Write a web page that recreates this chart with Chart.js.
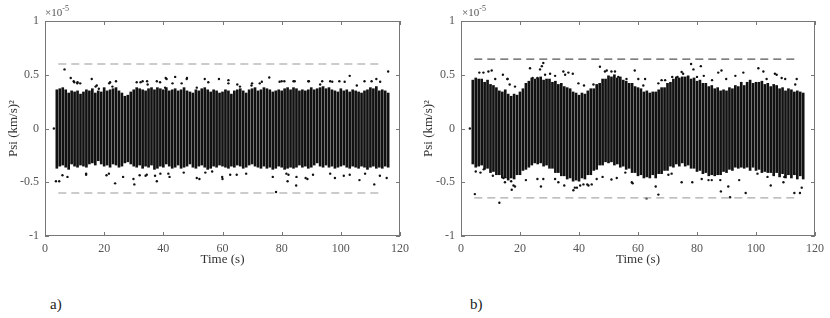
<!DOCTYPE html>
<html>
<head>
<meta charset="utf-8">
<script src="https://cdn.jsdelivr.net/npm/chart.js@4"></script>
<style>
body { margin: 0; background: #fff; width: 830px; height: 318px; position: relative; overflow: hidden; font-family: "Liberation Serif", serif; }
canvas { position: absolute; top: 0; }
#chartA { left: 0; }
#chartB { left: 415px; }
.exp { position: absolute; top: 4px; font-size: 11px; color: #555; }
.exp sup { font-size: 8px; }
.tag { position: absolute; top: 296px; font-size: 15px; color: #222; }
</style>
</head>
<body>
<canvas id="chartA" width="415" height="270"></canvas>
<canvas id="chartB" width="415" height="270"></canvas>
<div class="exp" style="left:45px">×10<sup>-5</sup></div>
<div class="exp" style="left:462px">×10<sup>-5</sup></div>
<div class="tag" style="left:50px">a)</div>
<div class="tag" style="left:470px">b)</div>
<script>
// time samples (s), one column of points per second
const times = [4,5,6,7,8,9,10,11,12,13,14,15,16,17,18,19,20,21,22,23,24,25,26,27,28,29,30,31,32,33,
    34,35,36,37,38,39,40,41,42,43,44,45,46,47,48,49,50,51,52,53,54,55,56,57,58,59,60,61,62,63,
    64,65,66,67,68,69,70,71,72,73,74,75,76,77,78,79,80,81,82,83,84,85,86,87,88,89,90,91,92,93,
    94,95,96,97,98,99,100,101,102,103,104,105,106,107,108,109,110,111,112,113,114,115,116];

// panel a) dense envelope of each column (x 1e-5)
const aHi = [0.36,0.37,0.38,0.36,0.33,0.35,0.34,0.35,0.32,0.34,
    0.36,0.35,0.37,0.33,0.35,0.34,0.38,0.35,0.36,0.37,
    0.38,0.35,0.33,0.30,0.31,0.34,0.36,0.38,0.37,0.36,
    0.35,0.37,0.38,0.36,0.38,0.37,0.36,0.38,0.35,0.36,
    0.37,0.35,0.36,0.38,0.35,0.34,0.33,0.36,0.35,0.37,
    0.38,0.36,0.34,0.36,0.35,0.33,0.34,0.36,0.35,0.32,
    0.35,0.36,0.37,0.35,0.33,0.36,0.37,0.38,0.35,0.36,
    0.38,0.37,0.36,0.34,0.35,0.36,0.35,0.37,0.38,0.36,
    0.38,0.37,0.35,0.36,0.35,0.36,0.38,0.36,0.37,0.38,
    0.39,0.37,0.38,0.36,0.35,0.34,0.37,0.35,0.36,0.34,
    0.36,0.35,0.34,0.33,0.35,0.36,0.38,0.37,0.39,0.35,
    0.36,0.35,0.33];
const aLo = [-0.37,-0.35,-0.34,-0.36,-0.38,-0.33,-0.35,-0.36,-0.34,-0.35,
    -0.36,-0.33,-0.32,-0.34,-0.30,-0.33,-0.35,-0.34,-0.36,-0.33,
    -0.34,-0.36,-0.35,-0.32,-0.31,-0.33,-0.35,-0.36,-0.34,-0.37,
    -0.35,-0.36,-0.34,-0.38,-0.37,-0.35,-0.36,-0.33,-0.35,-0.37,
    -0.36,-0.34,-0.37,-0.36,-0.35,-0.33,-0.36,-0.37,-0.35,-0.34,
    -0.36,-0.38,-0.37,-0.35,-0.36,-0.34,-0.35,-0.36,-0.37,-0.35,
    -0.36,-0.34,-0.35,-0.37,-0.36,-0.34,-0.33,-0.35,-0.36,-0.37,
    -0.35,-0.37,-0.36,-0.38,-0.37,-0.35,-0.36,-0.38,-0.37,-0.36,
    -0.37,-0.36,-0.34,-0.36,-0.35,-0.37,-0.36,-0.34,-0.32,-0.35,
    -0.36,-0.34,-0.36,-0.35,-0.37,-0.36,-0.35,-0.34,-0.36,-0.37,
    -0.35,-0.36,-0.37,-0.35,-0.36,-0.38,-0.36,-0.35,-0.37,-0.36,
    -0.37,-0.35,-0.36];
// isolated points outside the dense band
const aOutT = [3,6.6,8.7,9.7,11,15.8,17.5,22,24,31,33,34.5,37.8,40.8,44,48,54,58.8,62,65,70,72.6,75.8,80,84,89,93,96.4,99.5,103,108,112,116,
    3.7,4.8,7.6,13.9,23.7,26.4,29.9,30.2,34.4,37.8,41.7,51.3,52.2,60,62.6,77,78.1,82,82.3,84.9,88.7,98,103,106.3,111.3,115.5];
const aOutV = [0,0.55,0.47,0.44,0.43,0.46,0.40,0.43,0.44,0.43,0.44,0.44,0.44,0.47,0.48,0.47,0.46,0.46,0.45,0.41,0.42,0.42,0.475,0.44,0.44,0.44,0.41,0.44,0.44,0.49,0.44,0.46,0.53,
    -0.49,-0.49,-0.45,-0.43,-0.51,-0.45,-0.47,-0.52,-0.43,-0.49,-0.42,-0.46,-0.47,-0.47,-0.43,-0.45,-0.59,-0.49,-0.43,-0.53,-0.47,-0.46,-0.43,-0.48,-0.52,-0.46];
// scattered points just outside the band edge
const aEdgeT = [9.9,10.9,11.9,17.1,18.2,21.7,22.8,32.3,34.7,38.9,41.1,43.1,46.2,47.9,51.3,40.6,55.2,62,65.9,69.8,73.3,79.3,80.9,84.4,89.2,93.7,97.1,101.3,105.4,110.4,113.3,
    5.9,13.9,20.8,21.6,32,34,37.2,39,42.1,46.9,54.2,56.5,59.9,64.8,68,81.6,85,88.1,90.6,96.4,101,108.2,113.2];
const aEdgeV = [0.43,0.42,0.42,0.39,0.37,0.42,0.39,0.43,0.41,0.43,0.46,0.42,0.42,0.46,0.38,0.38,0.43,0.42,0.39,0.40,0.435,0.435,0.44,0.44,0.44,0.44,0.435,0.435,0.40,0.44,0.435,
    -0.435,-0.42,-0.435,-0.42,-0.435,-0.44,-0.44,-0.42,-0.45,-0.41,-0.41,-0.40,-0.45,-0.43,-0.42,-0.42,-0.45,-0.46,-0.43,-0.42,-0.44,-0.42,-0.44];
const aLimit = [0.6, -0.6];

// panel b)
const bHi = [0.45,0.47,0.46,0.46,0.43,0.45,0.41,0.40,0.38,0.35,
    0.34,0.36,0.32,0.30,0.32,0.31,0.34,0.37,0.42,0.44,
    0.47,0.46,0.47,0.48,0.45,0.46,0.46,0.43,0.44,0.41,
    0.42,0.39,0.38,0.37,0.34,0.33,0.31,0.33,0.32,0.35,
    0.37,0.37,0.41,0.42,0.46,0.46,0.49,0.48,0.50,0.47,
    0.48,0.45,0.44,0.42,0.42,0.39,0.38,0.37,0.34,0.35,
    0.33,0.34,0.34,0.36,0.38,0.38,0.42,0.43,0.46,0.48,
    0.47,0.48,0.48,0.49,0.46,0.47,0.44,0.45,0.42,0.42,
    0.39,0.40,0.37,0.38,0.35,0.36,0.35,0.38,0.37,0.40,
    0.39,0.43,0.40,0.43,0.45,0.42,0.43,0.43,0.44,0.41,
    0.42,0.39,0.41,0.40,0.37,0.38,0.35,0.37,0.36,0.34,
    0.35,0.34,0.33];
const bLo = [-0.33,-0.36,-0.35,-0.34,-0.38,-0.37,-0.41,-0.40,-0.43,-0.43,
    -0.46,-0.46,-0.48,-0.46,-0.47,-0.43,-0.43,-0.39,-0.38,-0.36,
    -0.34,-0.32,-0.33,-0.32,-0.35,-0.34,-0.37,-0.37,-0.41,-0.41,
    -0.44,-0.44,-0.47,-0.46,-0.49,-0.48,-0.49,-0.46,-0.47,-0.43,
    -0.43,-0.39,-0.38,-0.34,-0.34,-0.31,-0.32,-0.31,-0.34,-0.33,
    -0.36,-0.35,-0.38,-0.37,-0.41,-0.41,-0.44,-0.43,-0.46,-0.45,
    -0.46,-0.43,-0.46,-0.42,-0.42,-0.39,-0.39,-0.35,-0.36,-0.33,
    -0.35,-0.32,-0.35,-0.34,-0.37,-0.37,-0.40,-0.39,-0.42,-0.41,
    -0.44,-0.43,-0.44,-0.43,-0.43,-0.40,-0.41,-0.38,-0.39,-0.36,
    -0.37,-0.36,-0.37,-0.36,-0.39,-0.36,-0.39,-0.38,-0.41,-0.40,
    -0.41,-0.41,-0.44,-0.41,-0.45,-0.42,-0.46,-0.43,-0.46,-0.43,
    -0.47,-0.44,-0.47];
const bOutT = [3,9.3,10.4,7.6,15.8,18.3,23.4,26.8,27.9,27.4,30.2,34.7,36.4,47.1,49.4,51,52.2,58.9,62.4,68,74.8,78,81.3,78.8,88.3,95.7,100.8,102.5,106.4,108.7,113.8,
    4.7,13,14.9,17.2,18.3,27.1,33,38.1,38.6,43.2,51,58.2,62.9,66.9,66,74.8,78.4,88.1,91.2,90.6,96.5,105,109.3,113,114.9,115.5];
const bOutV = [0,0.53,0.54,0.52,0.46,0.39,0.56,0.55,0.61,0.58,0.51,0.53,0.52,0.575,0.54,0.53,0.53,0.54,0.46,0.45,0.525,0.60,0.58,0.55,0.54,0.52,0.56,0.53,0.51,0.47,0.46,
    -0.61,-0.69,-0.50,-0.57,-0.54,-0.54,-0.50,-0.575,-0.55,-0.53,-0.475,-0.51,-0.65,-0.615,-0.54,-0.50,-0.50,-0.585,-0.64,-0.54,-0.60,-0.53,-0.50,-0.60,-0.60,-0.55];
const bEdgeT = [6.2,11.6,14.2,15.7,16.5,24.3,25.9,28.5,31.9,35.3,37.9,39.8,41.7,44.9,48.8,53.3,56.1,60.1,61.8,66.9,69.2,71.6,73.4,75.3,80,82.3,85.1,87.2,89.9,93,103.6,107,109.9,113.3,
    5,6.6,7.7,10.8,14.4,15.9,17,17.8,22,25.9,27.9,31.9,35,39.3,40.4,41.5,42.8,44.3,46,48,52.8,57.9,55.7,70.3,71.4,81.6,83.9,85,87.9,94.3,100.5,103.9,109.6,113];
const bEdgeV = [0.52,0.46,0.50,0.46,0.41,0.47,0.47,0.50,0.49,0.50,0.51,0.42,0.40,0.41,0.53,0.48,0.46,0.46,0.40,0.42,0.45,0.48,0.48,0.51,0.48,0.49,0.45,0.52,0.46,0.49,0.46,0.50,0.46,0.41,
    -0.40,-0.41,-0.38,-0.44,-0.46,-0.455,-0.49,-0.53,-0.48,-0.47,-0.47,-0.47,-0.53,-0.55,-0.53,-0.52,-0.52,-0.52,-0.47,-0.45,-0.46,-0.50,-0.41,-0.43,-0.42,-0.47,-0.48,-0.48,-0.48,-0.48,-0.42,-0.45,-0.45,-0.42];
const bLimit = [0.645, -0.645];

const limitSpan = [4.5, 113];
const xTicks = [0, 20, 40, 60, 80, 100, 120];
const yTicks = [-1, -0.5, 0, 0.5, 1];

// frame + inward ticks like matlab axes
const frame = {
    id: 'frame',
    afterDraw(chart) {
        const { ctx, chartArea: a, scales: { x, y } } = chart;
        ctx.save();
        ctx.strokeStyle = '#777';
        ctx.lineWidth = 1;
        ctx.strokeRect(a.left + 0.5, a.top + 0.5, a.width - 1, a.height - 1);
        ctx.beginPath();
        x.ticks.forEach(t => {
            const px = Math.round(x.getPixelForValue(t.value)) + 0.5;
            ctx.moveTo(px, a.bottom); ctx.lineTo(px, a.bottom - 4);
            ctx.moveTo(px, a.top); ctx.lineTo(px, a.top + 4);
        });
        y.ticks.forEach(t => {
            const py = Math.round(y.getPixelForValue(t.value)) + 0.5;
            ctx.moveTo(a.left, py); ctx.lineTo(a.left + 4, py);
            ctx.moveTo(a.right, py); ctx.lineTo(a.right - 4, py);
        });
        ctx.stroke();
        ctx.restore();
    }
};

function makeChart(id, hi, lo, outT, outV, edgeT, edgeV, limit, yAxisWidth, upColor, lowColor) {
    const cols = times.map((t, i) => ({ x: t, y: [lo[i], hi[i]] }));
    const outs = outT.map((t, i) => ({ x: t, y: outV[i] }));
    const edges = edgeT.map((t, i) => ({ x: t, y: edgeV[i] }));
    const font = { family: 'Liberation Serif', size: 12 };
    return new Chart(document.getElementById(id), {
        type: 'bar',
        data: {
            datasets: [
                {
                    type: 'line',
                    data: limitSpan.map(t => ({ x: t, y: limit[0] })),
                    borderColor: upColor,
                    borderWidth: 1.2,
                    borderDash: [8, 5],
                    pointRadius: 0,
                    order: 1
                },
                {
                    type: 'line',
                    data: limitSpan.map(t => ({ x: t, y: limit[1] })),
                    borderColor: lowColor,
                    borderWidth: 1.2,
                    borderDash: [8, 5],
                    pointRadius: 0,
                    order: 1
                },
                {
                    type: 'scatter',
                    data: outs.concat(edges),
                    backgroundColor: '#111',
                    borderWidth: 0,
                    pointRadius: 1.2,
                    order: 2
                },
                {
                    type: 'bar',
                    data: cols,
                    backgroundColor: '#111',
                    barThickness: 2,
                    borderSkipped: false,
                    order: 3
                }
            ]
        },
        options: {
            responsive: false,
            animation: false,
            layout: { padding: { top: 21, right: 15 } },
            scales: {
                x: {
                    type: 'linear',
                    min: 0,
                    max: 120,
                    offset: false,
                    grid: { display: false, offset: false, drawTicks: false },
                    border: { display: false },
                    afterBuildTicks: s => { s.ticks = xTicks.map(v => ({ value: v })); },
                    afterFit: s => { s.height = 34; },
                    ticks: { color: '#555', font: font, padding: 6, maxRotation: 0, callback: v => String(v) },
                    title: { display: true, text: 'Time (s)', color: '#333', font: { family: 'Liberation Serif', size: 13 }, padding: { top: 0, bottom: 3 } }
                },
                y: {
                    min: -1,
                    max: 1,
                    grid: { display: false, drawTicks: false },
                    border: { display: false },
                    afterBuildTicks: s => { s.ticks = yTicks.map(v => ({ value: v })); },
                    afterFit: s => { s.width = yAxisWidth; },
                    ticks: { color: '#555', font: font, padding: 6, callback: v => String(v) },
                    title: { display: true, text: 'Psi (km/s)²', color: '#333', font: { family: 'Liberation Serif', size: 13 }, padding: { top: 6, bottom: 0 } }
                }
            },
            plugins: {
                legend: { display: false },
                tooltip: { enabled: false }
            }
        },
        plugins: [frame]
    });
}

makeChart('chartA', aHi, aLo, aOutT, aOutV, aEdgeT, aEdgeV, aLimit, 45, '#999', '#999');
makeChart('chartB', bHi, bLo, bOutT, bOutV, bEdgeT, bEdgeV, bLimit, 46, '#555', '#aaa');
</script>
</body>
</html>
